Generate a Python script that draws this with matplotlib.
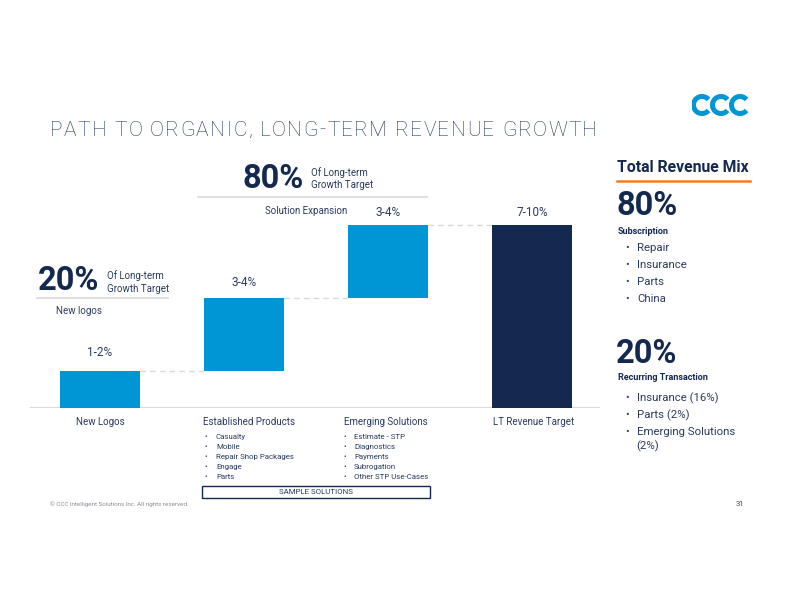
import matplotlib
matplotlib.use("Agg")
import matplotlib.pyplot as plt
from matplotlib.patches import Rectangle, Arc
import numpy as np

plt.rcParams["font.family"] = ["Roboto", "DejaVu Sans"]

# ── Data ──────────────────────────────────────────────────────────────────────
categories = ["New Logos", "Established Products", "Emerging Solutions", "LT Revenue Target"]
steps = [1.5, 3.0, 3.0]                       # growth contribution per driver
bar_labels = ["1-2%", "3-4%", "3-4%", "7-10%"]
established_items = ["Casualty", "Mobile", "Repair Shop Packages", "Engage", "Parts"]
emerging_items = ["Estimate - STP", "Diagnostics", "Payments", "Subrogation", "Other STP Use-Cases"]
subscription_items = ["Repair", "Insurance", "Parts", "China"]
transaction_items = ["Insurance (16%)", "Parts (2%)", "Emerging Solutions\n(2%)"]

NAVY = "#13294f"
BLUE = "#0096d6"
TXT = "#2a3b5f"
GREY = "#d9d9d9"
ORANGE = "#f47b20"

W, H = 792, 612
fig = plt.figure(figsize=(7.92, 6.12), dpi=100)
fig.patch.set_facecolor("white")


def fx(x):
    return x / W


def fy(y):
    return 1 - y / H


def txt(x, y, s, **kw):
    kw.setdefault("color", TXT)
    kw.setdefault("va", "center")
    return fig.text(fx(x), fy(y), s, **kw)


def hline(x1, x2, y, color=GREY, lw=1.2, ls="-"):
    fig.add_artist(plt.Line2D([fx(x1), fx(x2)], [fy(y), fy(y)], color=color,
                              lw=lw, ls=ls, transform=fig.transFigure))


def spaced(x, y, s, width, **kw):
    """Draw text with letter spacing so it spans `width` pixels."""
    r = fig.canvas.get_renderer()
    probe = txt(x, y, "", **kw)
    widths = []
    for i in range(len(s) + 1):
        probe.set_text(s[:i] + "|")
        w = probe.get_window_extent(r).width
        probe.set_text("|")
        widths.append(w - probe.get_window_extent(r).width)
    probe.remove()
    gap = (width - widths[-1]) / (len(s) - 1)
    for i, ch in enumerate(s):
        if ch != " ":
            txt(x + widths[i] + i * gap, y, ch, **kw)


# ── Waterfall axes ────────────────────────────────────────────────────────────
ax = fig.add_axes([fx(30), fy(408), fx(600) - fx(30), fy(150) - fy(408)])
ax.axis("off")
total = sum(steps)
bottoms = list(np.cumsum([0] + steps[:-1])) + [0]
heights = steps + [total]
colors = [BLUE, BLUE, BLUE, NAVY]
xs = np.arange(len(categories))
ax.bar(xs, heights, bottom=bottoms, width=0.556, color=colors, zorder=2)
ax.set_xlim(-0.486, 3.472)
ax.set_ylim(0, total * 258 / 183)
ax.axhline(0, color=GREY, lw=1.5, zorder=1)

tops = [b + h for b, h in zip(bottoms, heights)]
for i in range(3):
    ax.plot([xs[i] + 0.278, xs[i + 1] - 0.278], [tops[i], tops[i]],
            color=GREY, lw=1.0, ls=(0, (4, 3)), zorder=1)

label_gap = [19, 16, 12, 12]
for i, lab in enumerate(bar_labels):
    ax.annotate(lab, (xs[i], tops[i]), xytext=(0, label_gap[i]), textcoords="offset pixels",
                ha="center", va="center", fontsize=8.5, color=TXT)

cat_shift = [0, 5, -2, 2]
for i, c in enumerate(categories):
    ax.annotate(c, (xs[i], 0), xytext=(cat_shift[i], -14), textcoords="offset pixels",
                ha="center", va="center", fontsize=7, color=TXT)

# bullet lists under categories
for items, bx in [(established_items, 205), (emerging_items, 343)]:
    for j, s in enumerate(items):
        y = 437 + j * 10
        txt(bx, y, "•", fontsize=5.5)
        txt(bx + 11, y, s, fontsize=5.7)

fig.add_artist(Rectangle((fx(202), fy(498)), fx(430) - fx(202), fy(486) - fy(498),
                         transform=fig.transFigure, fill=False, edgecolor=NAVY, lw=1.0))
txt(316, 492.5, "SAMPLE SOLUTIONS", fontsize=5.7, ha="center")

# ── Title & logo ──────────────────────────────────────────────────────────────
spaced(50, 130, "PATH TO ORGANIC, LONG-TERM REVENUE GROWTH", 547,
       fontsize=15, fontweight="light", color="#24385e")

lax = fig.add_axes([fx(692), fy(116), fx(754) - fx(692), fy(94) - fy(116)])
lax.axis("off")
lax.set_xlim(0, 62)
lax.set_ylim(0, 22)
for cx in [10, 29, 48]:
    lax.add_patch(Arc((cx, 11), 17, 17, theta1=40, theta2=320, color=BLUE, lw=3.6))

# ── 80% / 20% callouts ────────────────────────────────────────────────────────
txt(243, 179, "80%", fontsize=23.5, fontweight="bold", color=NAVY)
txt(311, 173, "Of Long-term", fontsize=7)
txt(311, 185, "Growth Target", fontsize=7)
hline(198, 427, 197)
txt(306, 211, "Solution Expansion", fontsize=7, ha="center")

txt(38, 281, "20%", fontsize=23.5, fontweight="bold", color=NAVY)
txt(107, 276, "Of Long-term", fontsize=7)
txt(107, 289, "Growth Target", fontsize=7)
hline(37, 168, 298)
txt(79, 311, "New logos", fontsize=7, ha="center")

# ── Right panel ───────────────────────────────────────────────────────────────
txt(617, 168, "Total Revenue Mix", fontsize=11.3, fontweight="bold", color=NAVY)
hline(617, 750, 181, color=ORANGE, lw=1.8)
txt(616, 206, "80%", fontsize=23.5, fontweight="bold", color=NAVY)
txt(618, 231, "Subscription", fontsize=6.5, fontweight="bold", color=NAVY)
for j, s in enumerate(subscription_items):
    y = 248 + j * 17
    txt(625, y, "•", fontsize=7.5)
    txt(637, y, s, fontsize=8.2)

txt(616, 354, "20%", fontsize=23.5, fontweight="bold", color=NAVY)
txt(618, 378, "Recurring Transaction", fontsize=6.5, fontweight="bold", color=NAVY)
for j, s in enumerate(transaction_items):
    y = 398 + j * 17
    txt(625, y, "•", fontsize=7.5)
    lines = s.split("\n")
    txt(637, y, lines[0], fontsize=8.2)
    if len(lines) > 1:
        txt(636, y + 14, lines[1], fontsize=8.2)

# ── Footer ────────────────────────────────────────────────────────────────────
txt(50, 504, "© CCC Intelligent Solutions Inc. All rights reserved.", fontsize=4.5, color="#8a8f99")
txt(740, 504, "31", fontsize=5.5, color="#444444", ha="center")

fig.savefig("out.png", dpi=100, facecolor="white")
